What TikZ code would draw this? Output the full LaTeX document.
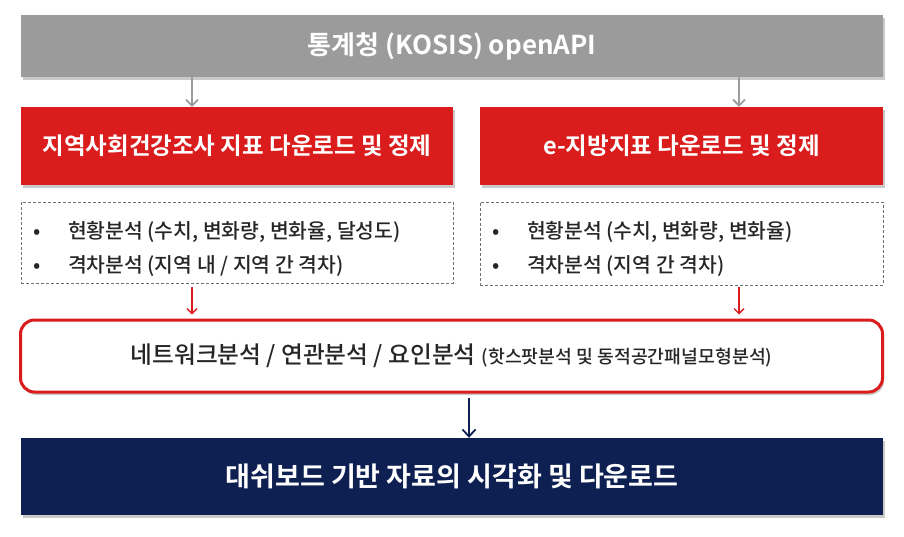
\documentclass[tikz,border=0pt]{standalone}
\usepackage{fontspec}
\setmainfont{Noto Sans CJK KR Medium}
\newfontfamily\boldkr{Noto Sans CJK KR Bold}
\usetikzlibrary{shadows,arrows.meta}
\definecolor{apigrey}{HTML}{9B9B9B}
\definecolor{boxred}{HTML}{DA1C1C}
\definecolor{navy}{HTML}{0E1F52}
\definecolor{txtdark}{HTML}{262626}
\definecolor{dashgrey}{HTML}{707070}
\begin{document}
\begin{tikzpicture}[x=1pt,y=-1pt,
  boxshadow/.style={drop shadow={shadow xshift=1.5pt,shadow yshift=-3pt,opacity=0.35,fill=black!60}},
  solidbox/.style={rectangle,inner sep=0pt,boxshadow,text=white},
  greybox/.style={solidbox,fill=apigrey,minimum width=862pt,minimum height=62pt,font=\boldkr\fontsize{26}{30}\selectfont},
  redbox/.style={solidbox,fill=boxred,minimum height=78pt,font=\boldkr\fontsize{23.5}{28}\selectfont},
  dashbox/.style={rectangle,draw=dashgrey,densely dashed,line width=0.8pt,inner sep=0pt},
  listtext/.style={inner sep=0pt,anchor=west,text=txtdark,font=\fontsize{20.4}{34}\selectfont,align=left},
  roundbox/.style={rectangle,rounded corners=14pt,draw=boxred,line width=3pt,fill=white,minimum width=862pt,minimum height=72pt,inner sep=0pt,boxshadow,text=txtdark},
  navybox/.style={solidbox,fill=navy,minimum width=862pt,minimum height=77pt,font=\boldkr\fontsize{27}{32}\selectfont},
  greyarrow/.style={draw=apigrey,line width=1.8pt,-{Straight Barb[length=6pt,width=12pt]}},
  redarrow/.style={draw=boxred,line width=1.4pt,-{Straight Barb[length=5pt,width=10pt]}},
  navyarrow/.style={draw=navy,line width=1.8pt,-{Straight Barb[length=7pt,width=13pt]}}
]
\useasboundingbox (0,0) rectangle (904,536);

\node[greybox] (api) at (452,46) {통계청 (KOSIS) openAPI};

\node[redbox,minimum width=432pt] (lred) at (237,146) {지역사회건강조사 지표 다운로드 및 정제};
\node[redbox,minimum width=403pt] (rred) at (681.5,146) {e-지방지표 다운로드 및 정제};

\node[dashbox,minimum width=432pt,minimum height=81pt] (ldash) at (237,242.5) {};
\node[dashbox,minimum width=403pt,minimum height=83pt] (rdash) at (681.5,243.5) {};

\node[listtext] (llist) at ([xshift=13pt,yshift=-6pt]ldash.west) {\begin{tabular}{@{}l@{\hspace{27pt}}l@{}}•&현황분석 (수치, 변화량, 변화율, 달성도)\\•&격차분석 (지역 내 / 지역 간 격차)\end{tabular}};
\node[listtext] (rlist) at ([xshift=13pt,yshift=-5pt]rdash.west) {\begin{tabular}{@{}l@{\hspace{27pt}}l@{}}•&현황분석 (수치, 변화량, 변화율)\\•&격차분석 (지역 간 격차)\end{tabular}};

\node[roundbox] (net) at (451.5,356) {{\fontsize{23.7}{28}\selectfont 네트워크분석 / 연관분석 / 요인분석}\hspace{6pt}{\fontsize{18.3}{22}\selectfont (핫스팟분석 및 동적공간패널모형분석)}};

\node[navybox] (dash) at (452,476.5) {대쉬보드 기반 자료의 시각화 및 다운로드};

\coordinate (lx) at (192,0);
\coordinate (rx) at (739,0);
\coordinate (mx) at (469,0);

\draw[greyarrow] (api.south -| lx) -- (lred.north -| lx);
\draw[greyarrow] (api.south -| rx) -- (rred.north -| rx);
\draw[redarrow] ([yshift=-4pt]ldash.south -| lx) -- ([yshift=4pt]net.north -| lx);
\draw[redarrow] ([yshift=-2pt]rdash.south -| rx) -- ([yshift=4pt]net.north -| rx);
\draw[navyarrow] ([yshift=-4pt]net.south -| mx) -- (dash.north -| mx);
\end{tikzpicture}
\end{document}
